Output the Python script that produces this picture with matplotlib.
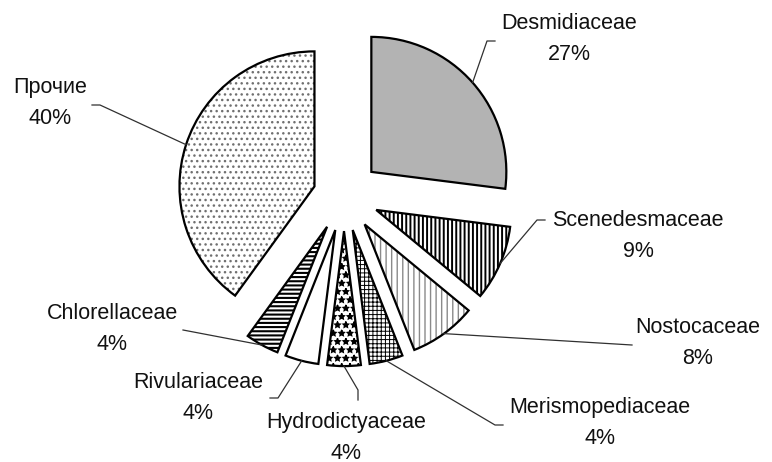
import matplotlib
matplotlib.use('Agg')
import matplotlib.pyplot as plt
from matplotlib.patches import Wedge
import numpy as np

# data
families = ['Desmidiaceae', 'Scenedesmaceae', 'Nostocaceae', 'Merismopediaceae',
            'Hydrodictyaceae', 'Rivulariaceae', 'Chlorellaceae', 'Прочие']
shares = [27, 9, 8, 4, 4, 4, 4, 40]

# look of each slice
explode = [0.27, 0.26, 0.26, 0.26, 0.26, 0.26, 0.26, 0.23]
faces = ['#b3b3b3', 'white', 'white', 'white', 'white', 'white', 'white', 'white']
hatches = [None, '||||', '|||', '++++', '**', None, '----', '...']
hatch_cols = ['black', 'black', '#8a8a8a', 'black', 'black', 'black', 'black', '#707070']
hatch_lw = [1.0, 1.4, 1.0, 0.7, 1.0, 1.0, 1.5, 1.0]

# label layout in pixels: name centre, leader end at text, leader bend
label_pos = [(569, 23), (638, 220), (698, 327), (600, 407),
             (346, 422), (198, 382), (112, 313), (50, 87)]
lead_end = [(495, 41), (545, 220), (632, 345), (503, 425),
            (358, 400), (270, 398), (183, 330), (92, 105)]
lead_bend = [(487, 41), (537, 220), (632, 345), (495, 425),
             (358, 390), (278, 398), (183, 330), (100, 105)]

W, H = 772, 462
CX, CY, R = 344, 196, 135  # pie centre / radius in pixels


def px(x, y):
    return (x - CX) / R, (CY - y) / R


plt.rcParams['font.family'] = ['Liberation Sans', 'DejaVu Sans']
plt.rcParams['hatch.linewidth'] = 1.0

fig = plt.figure(figsize=(W / 100, H / 100), dpi=100)
ax = fig.add_axes([0, 0, 1, 1])

wedges, _ = ax.pie(shares, explode=explode, startangle=90, counterclock=False,
                   radius=1, wedgeprops=dict(linewidth=0))

for i, w in enumerate(wedges):
    w.set_facecolor(faces[i])
    w.set_edgecolor(hatch_cols[i])
    w.set_linewidth(0)
    if hatches[i]:
        w.set_hatch(hatches[i])
        if hasattr(w, 'set_hatch_linewidth'):
            w.set_hatch_linewidth(hatch_lw[i])
    # black outline on top
    ax.add_patch(Wedge(w.center, w.r, w.theta1, w.theta2, fill=False,
                       edgecolor='black', linewidth=1.6, zorder=3))
    # leader line from outer arc middle
    a = np.deg2rad((w.theta1 + w.theta2) / 2)
    ax0 = w.center[0] + w.r * np.cos(a)
    ay0 = w.center[1] + w.r * np.sin(a)
    bx, by = px(*lead_bend[i])
    ex, ey = px(*lead_end[i])
    ax.plot([ax0, bx, ex], [ay0, by, ey], color='#303030', linewidth=0.9, zorder=4)
    tx, ty = px(*label_pos[i])
    ax.text(tx, ty, families[i], ha='center', va='center', fontsize=15.5, color='#111111')
    tx2, ty2 = px(label_pos[i][0], label_pos[i][1] + 31)
    ax.text(tx2, ty2, f'{shares[i]}%', ha='center', va='center', fontsize=15.5, color='#111111')

ax.set_xlim(px(0, 0)[0], px(W, 0)[0])
ax.set_ylim(px(0, H)[1], px(0, 0)[1])
ax.axis('off')

fig.savefig('out.png', dpi=100, facecolor='white')
